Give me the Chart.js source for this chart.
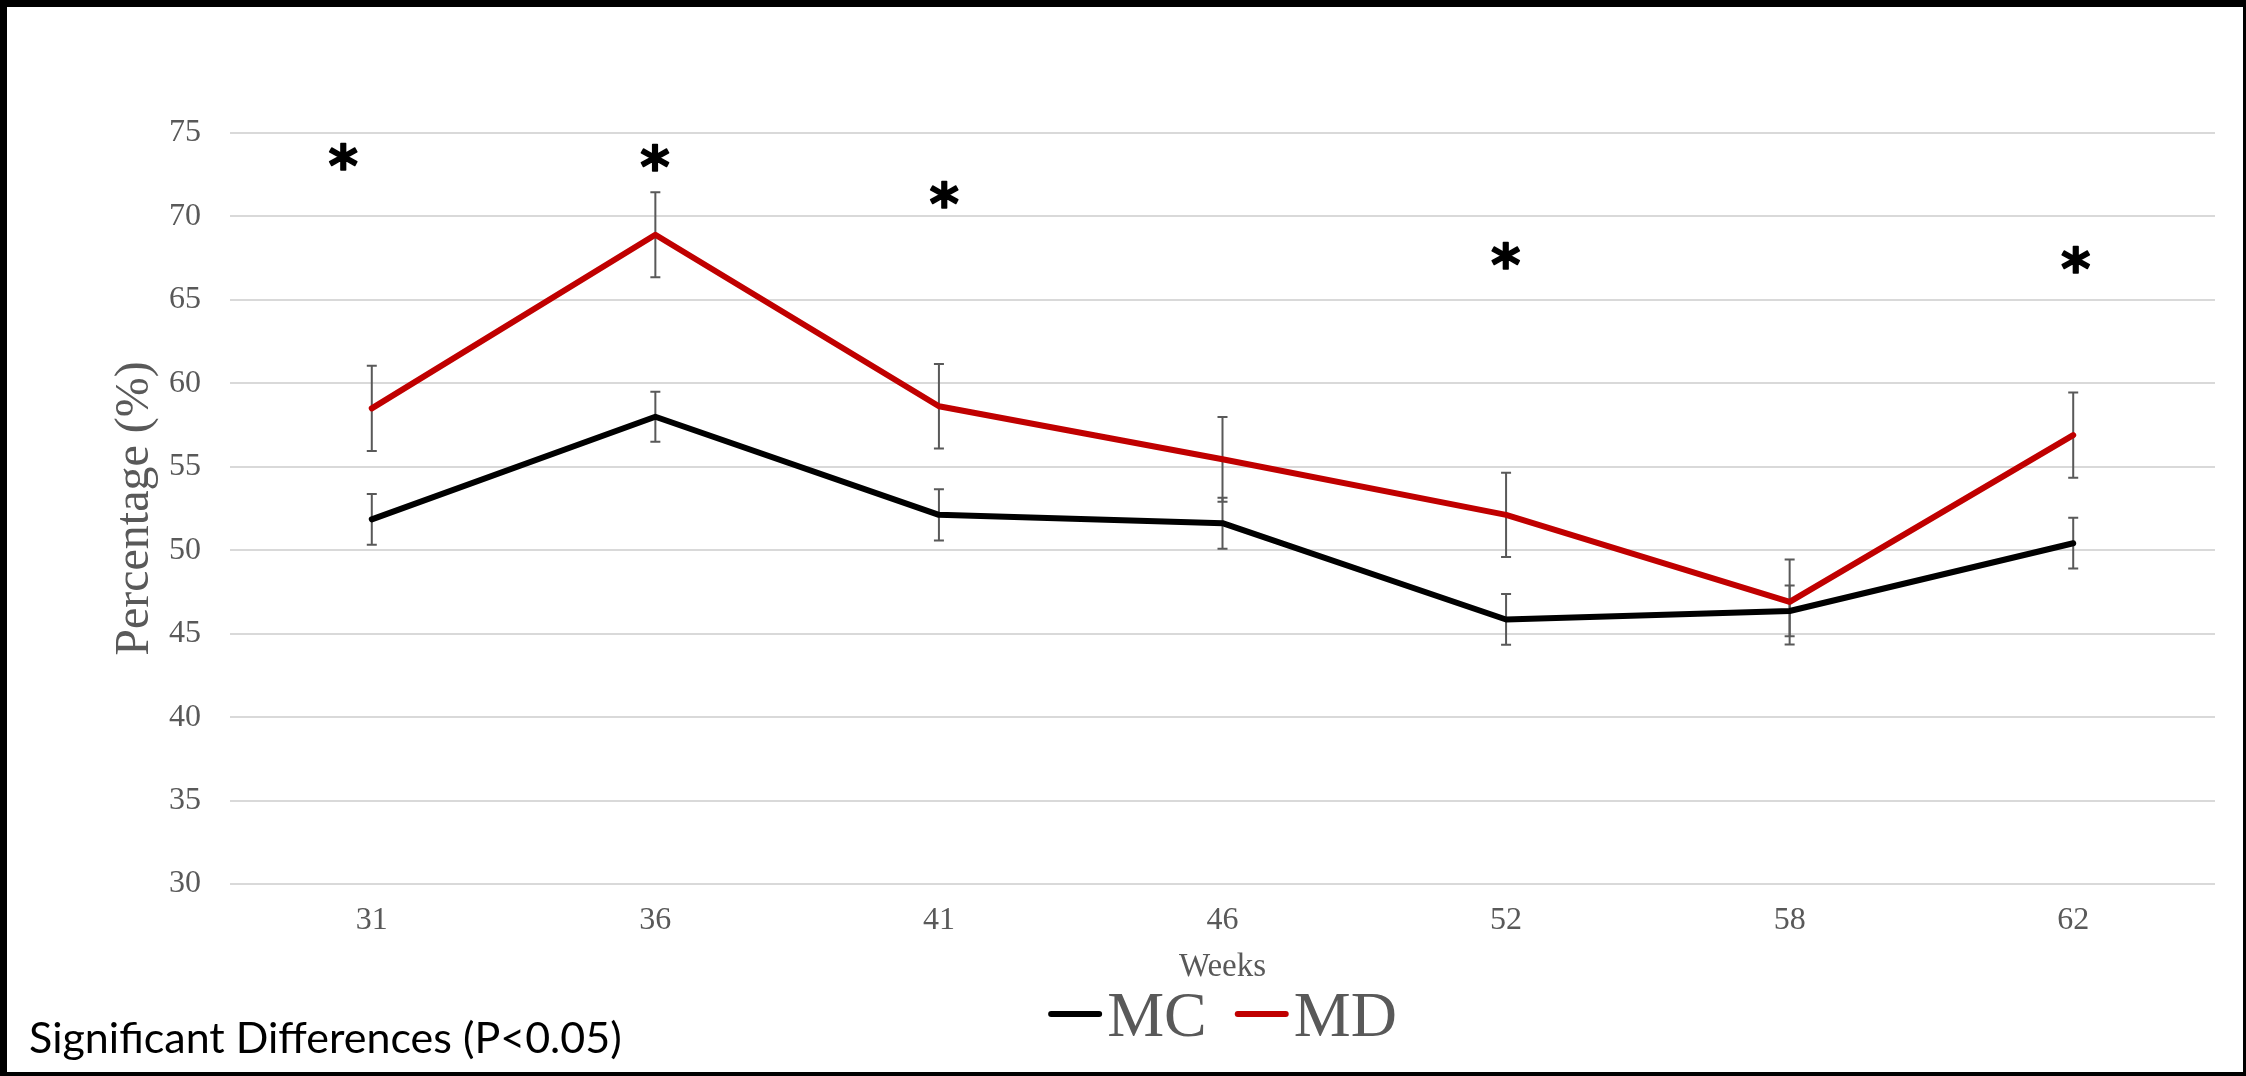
<!DOCTYPE html>
<html><head><meta charset="utf-8">
<script src="https://cdn.jsdelivr.net/npm/chart.js@4.4.1/dist/chart.umd.min.js"></script>
<style>
html,body{margin:0;padding:0;background:#fff;}
#wrap{position:relative;width:2246px;height:1076px;overflow:hidden;background:#fff;}
#frame{position:absolute;left:0;top:0;width:2246px;height:1076px;box-sizing:border-box;border-style:solid;border-color:#000;border-width:7px 3px 4px 7px;pointer-events:none;}
canvas{position:absolute;left:0;top:0;}
#note{position:absolute;left:29px;top:1015px;font-family:Lato,"Open Sans",sans-serif;font-size:43px;line-height:1;color:#000;white-space:nowrap;}
</style></head>
<body><div id="wrap"><canvas id="c" width="2246" height="1076"></canvas><div id="note">Significant Differences (P&lt;0.05)</div><div id="frame"></div></div>
<script>
// ---- data ----
const weeks = ['31', '36', '41', '46', '52', '58', '62'];
const mcValues = [51.85, 58.0, 52.12, 51.62, 45.85, 46.36, 50.42];
const mcErrors = [1.52, 1.50, 1.53, 1.53, 1.52, 1.52, 1.52];
const mdValues = [58.5, 68.9, 58.63, 55.45, 52.12, 46.9, 56.9];
const mdErrors = [2.55, 2.55, 2.53, 2.54, 2.52, 2.55, 2.55];
const asteriskWeeks = ['31', '36', '41', '52', '62'];
const asteriskLevels = [73.6, 73.55, 71.3, 67.65, 67.45];
const asteriskShift = [-0.1, 0, 0.02, 0, 0.01];
const yTicks = [30, 35, 40, 45, 50, 55, 60, 65, 70, 75];
const seriesNames = ['MC', 'MD'];

const GRAY = '#595959';
const SERIF = '"Liberation Serif", "Times New Roman", serif';

const toPoints = (vals) => vals.map((v, i) => ({x: i, y: v}));

const errorBars = {
  id: 'errorBars',
  beforeDatasetsDraw(chart) {
    const {ctx, scales: {x, y}} = chart;
    ctx.save();
    ctx.strokeStyle = GRAY;
    ctx.lineWidth = 2;
    chart.data.datasets.forEach(ds => {
      if (!ds.errors) return;
      ds.data.forEach((p, i) => {
        const px = x.getPixelForValue(p.x);
        const top = y.getPixelForValue(p.y + ds.errors[i]);
        const bot = y.getPixelForValue(p.y - ds.errors[i]);
        ctx.beginPath();
        ctx.moveTo(px, top); ctx.lineTo(px, bot);
        ctx.moveTo(px - 5, top); ctx.lineTo(px + 5, top);
        ctx.moveTo(px - 5, bot); ctx.lineTo(px + 5, bot);
        ctx.stroke();
      });
    });
    ctx.restore();
  }
};

const asterisks = {
  id: 'asterisks',
  afterDatasetsDraw(chart) {
    const {ctx, scales: {x, y}} = chart;
    ctx.save();
    ctx.fillStyle = '#000';
    ctx.strokeStyle = '#000';
    ctx.lineWidth = 1.5;
    ctx.lineJoin = 'round';
    ctx.textAlign = 'left';
    ctx.textBaseline = 'alphabetic';
    ctx.font = 'bold 100px "DejaVu Sans"';
    let m = ctx.measureText('*');
    const size = 100 * 26.5 / (m.actualBoundingBoxAscent + m.actualBoundingBoxDescent);
    ctx.font = 'bold ' + size + 'px "DejaVu Sans"';
    m = ctx.measureText('*');
    asteriskWeeks.forEach((w, k) => {
      const idx = weeks.indexOf(w) + asteriskShift[k];
      const cx = x.getPixelForValue(idx);
      const cy = y.getPixelForValue(asteriskLevels[k]);
      const bx = cx - (m.actualBoundingBoxRight - m.actualBoundingBoxLeft) / 2;
      const by = cy - (m.actualBoundingBoxDescent - m.actualBoundingBoxAscent) / 2;
      ctx.fillText('*', bx, by);
      ctx.strokeText('*', bx, by);
    });
    ctx.restore();
  }
};

const bottomLegend = {
  id: 'bottomLegend',
  afterDraw(chart) {
    const {ctx, chartArea} = chart;
    ctx.save();
    ctx.font = '64px ' + SERIF;
    const boxW = 54, gap = 5, itemGap = 28;
    const items = chart.data.datasets.map(ds => ({text: ds.label, color: ds.borderColor, w: ctx.measureText(ds.label).width}));
    let total = 0;
    items.forEach((it, i) => { total += boxW + gap + it.w + (i ? itemGap : 0); });
    let xx = (chartArea.left + chartArea.right) / 2 - total / 2;
    const cy = 1014, base = 1036;
    items.forEach((it, i) => {
      if (i) xx += itemGap;
      ctx.strokeStyle = it.color;
      ctx.lineWidth = 6;
      ctx.lineCap = 'round';
      ctx.beginPath();
      ctx.moveTo(xx + 3, cy); ctx.lineTo(xx + boxW - 3, cy);
      ctx.stroke();
      xx += boxW + gap;
      ctx.fillStyle = GRAY;
      ctx.textBaseline = 'alphabetic';
      ctx.textAlign = 'left';
      ctx.fillText(it.text, xx, base);
      xx += it.w;
    });
    ctx.restore();
  }
};

new Chart(document.getElementById('c'), {
  type: 'line',
  data: {
    datasets: [
      {label: seriesNames[0], data: toPoints(mcValues), errors: mcErrors, borderColor: '#000000', backgroundColor: '#000000',
       borderWidth: 6, pointRadius: 0, tension: 0, borderJoinStyle: 'round', borderCapStyle: 'round'},
      {label: seriesNames[1], data: toPoints(mdValues), errors: mdErrors, borderColor: '#C00000', backgroundColor: '#C00000',
       borderWidth: 6, pointRadius: 0, tension: 0, borderJoinStyle: 'round', borderCapStyle: 'round'}
    ]
  },
  options: {
    responsive: false,
    animation: false,
    devicePixelRatio: 1,
    layout: {padding: {left: 0, right: 31, top: 133, bottom: 82}},
    plugins: {legend: {display: false}, tooltip: {enabled: false}},
    scales: {
      x: {
        type: 'linear', min: -0.5, max: 6.5,
        afterBuildTicks: s => { s.ticks = weeks.map((w, i) => ({value: i})); },
        grid: {display: false, drawTicks: false},
        border: {display: false},
        ticks: {callback: v => weeks[v], font: {family: SERIF, size: 32}, color: GRAY, padding: 17, maxRotation: 0, autoSkip: false},
        title: {display: true, text: 'Weeks', font: {family: SERIF, size: 33}, color: GRAY, padding: {top: 0, bottom: 7}},
        afterFit: s => { s.height = 110; }
      },
      y: {
        min: 30, max: 75,
        afterBuildTicks: s => { s.ticks = yTicks.map(v => ({value: v})); },
        grid: {color: '#d9d9d9', lineWidth: 2, drawTicks: false},
        border: {display: false},
        ticks: {font: {family: SERIF, size: 32}, color: GRAY, padding: 29},
        title: {display: true, text: 'Percentage (%)', font: {family: SERIF, size: 48}, color: GRAY, padding: {top: 107, bottom: 0}},
        afterFit: s => { s.width = 230; }
      }
    }
  },
  plugins: [errorBars, asterisks, bottomLegend]
});
</script>
</body></html>
